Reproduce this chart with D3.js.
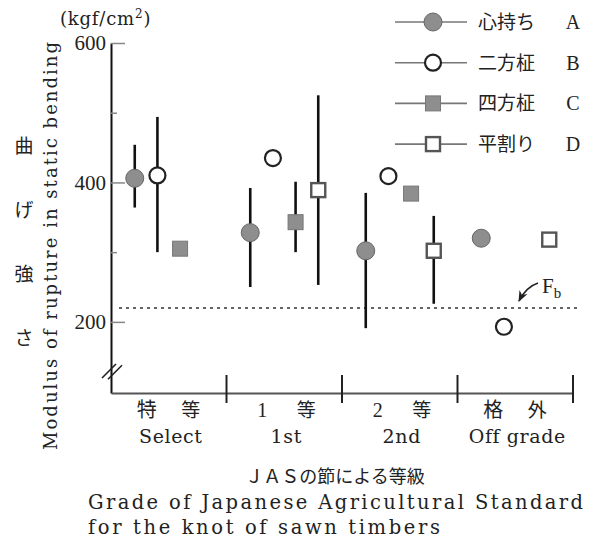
<!DOCTYPE html>
<html>
<head>
<meta charset="utf-8">
<script src="https://cdn.jsdelivr.net/npm/d3@7"></script>
<style>
  body { margin: 0; background: #fff; }
  text { fill: #222; }
</style>
</head>
<body>
<script>
const W = 594, H = 545;

// grades on the x axis
const grades = ['Select', '1st', '2nd', 'Off grade'];
const gradesJpL = ['特', '1', '2', '格'];
const gradesJpR = ['等', '等', '等', '外'];

// series
const seriesKeys = ['A', 'B', 'C', 'D'];
const seriesJp = ['心持ち', '二方柾', '四方柾', '平割り'];

// mean and range (kgf/cm2), null = not present
const meanA = [406, 328, 302, 320];
const lowA  = [364, 250, 191, null];
const highA = [454, 392, 385, null];

const meanB = [410, 435, 409, 193];
const lowB  = [300, null, null, null];
const highB = [494, null, null, null];

const meanC = [305, 343, 384, null];
const lowC  = [null, 300, null, null];
const highC = [null, 401, null, null];

const meanD = [null, 389, 302, 318];
const lowD  = [null, 253, 226, null];
const highD = [null, 525, 352, null];

const fb = 220;
const yTicks = [200, 300, 400, 500, 600];
const yLabels = [200, 400, 600];
const yTitleJp = ['曲', 'げ', '強', 'さ'];

const series = [
  {key: 'A', mean: meanA, low: lowA, high: highA},
  {key: 'B', mean: meanB, low: lowB, high: highB},
  {key: 'C', mean: meanC, low: lowC, high: highC},
  {key: 'D', mean: meanD, low: lowD, high: highD}
];

const points = [];
series.forEach(s => {
  grades.forEach((g, i) => {
    if (s.mean[i] != null) points.push({key: s.key, grade: g, v: s.mean[i], lo: s.low[i], hi: s.high[i]});
  });
});

const SERIF = '"DejaVu Serif", serif';
const NUM = '"Liberation Serif", serif';
const JP = '"Noto Sans CJK JP", sans-serif';

const svg = d3.select('body').append('svg')
  .attr('width', W).attr('height', H)
  .style('font-family', SERIF);

const x = d3.scaleBand().domain(grades).range([111, 573]);
const xs = d3.scalePoint().domain(seriesKeys).range([-34, 34]);
const y = d3.scaleLinear().domain([98, 600]).range([393, 43]);

const GRAY = '#8e8e8e';

// y axis
const yAxis = svg.append('g')
  .attr('transform', 'translate(111,0)')
  .call(d3.axisLeft(y).tickValues(yTicks).tickSize(-7).tickSizeOuter(0).tickPadding(5)
    .tickFormat(d => yLabels.includes(d) ? d : ''));
yAxis.select('.domain').attr('stroke', '#111').attr('stroke-width', 2);
yAxis.selectAll('.tick line').attr('stroke', '#888').attr('stroke-width', 1.5)
  .attr('x2', d => yLabels.includes(d) ? 14 : 6);
yAxis.selectAll('.tick text').attr('font-family', NUM)
  .attr('font-size', 21).attr('fill', '#222');

// axis break
[0, 6].forEach(o => {
  svg.append('line')
    .attr('x1', 102 + o).attr('y1', 378 + o * 0.2)
    .attr('x2', 116 + o).attr('y2', 364 + o * 0.2)
    .attr('stroke', '#222').attr('stroke-width', 1.6);
});

// x axis
const xAxis = svg.append('g')
  .attr('transform', 'translate(0,393)')
  .call(d3.axisBottom(x).tickValues([]).tickSizeOuter(0));
xAxis.select('.domain').attr('stroke', '#555').attr('stroke-width', 1.8);

svg.append('g').selectAll('line')
  .data(grades)
  .join('line')
  .attr('x1', d => x(d) + x.bandwidth()).attr('x2', d => x(d) + x.bandwidth())
  .attr('y1', 375).attr('y2', 403)
  .attr('stroke', '#222').attr('stroke-width', 2);

// category labels
const cat = svg.append('g').selectAll('g').data(grades).join('g')
  .attr('transform', d => `translate(${x(d) + x.bandwidth() / 2},0)`);
cat.append('text').attr('x', -22).attr('y', 417).attr('text-anchor', 'middle')
  .style('font-family', (d, i) => i === 0 || i === 3 ? JP : NUM).attr('font-size', 20)
  .text((d, i) => gradesJpL[i]);
cat.append('text').attr('x', 22).attr('y', 417).attr('text-anchor', 'middle')
  .style('font-family', JP).attr('font-size', 19)
  .text((d, i) => gradesJpR[i]);
cat.append('text').attr('x', 2).attr('y', 443).attr('text-anchor', 'middle')
  .attr('font-size', 19).attr('letter-spacing', 0.6)
  .text(d => d);

// Fb line
svg.append('line')
  .attr('x1', 119).attr('x2', 578)
  .attr('y1', y(fb)).attr('y2', y(fb))
  .attr('stroke', '#333').attr('stroke-width', 1.5)
  .attr('stroke-dasharray', '3,4');

svg.append('defs').append('marker')
  .attr('id', 'arr').attr('viewBox', '0 0 10 10')
  .attr('refX', 9).attr('refY', 5)
  .attr('markerWidth', 7).attr('markerHeight', 7)
  .attr('orient', 'auto')
  .append('path').attr('d', 'M0,1 L10,5 L0,9 L3,5 Z').attr('fill', '#222');

svg.append('path')
  .attr('d', 'M538,283 Q526,287 519,301')
  .attr('fill', 'none').attr('stroke', '#222').attr('stroke-width', 1.6)
  .attr('marker-end', 'url(#arr)');

const fbText = svg.append('text').attr('x', 542).attr('y', 293).attr('font-size', 21).attr('font-family', NUM);
fbText.append('tspan').text('F');
fbText.append('tspan').attr('font-size', 15).attr('dy', 5).text('b');

// error bars
svg.append('g').selectAll('line')
  .data(points.filter(p => p.lo != null))
  .join('line')
  .attr('x1', p => x(p.grade) + x.bandwidth() / 2 + xs(p.key))
  .attr('x2', p => x(p.grade) + x.bandwidth() / 2 + xs(p.key))
  .attr('y1', p => y(p.hi)).attr('y2', p => y(p.lo))
  .attr('stroke', '#111').attr('stroke-width', 2.6);

function drawMarker(g, key) {
  if (key === 'A') {
    g.append('circle').attr('r', 9).attr('fill', GRAY).attr('stroke', '#666').attr('stroke-width', 1);
  } else if (key === 'B') {
    g.append('circle').attr('r', 8).attr('fill', '#fff').attr('stroke', '#222').attr('stroke-width', 2.2);
  } else if (key === 'C') {
    g.append('rect').attr('x', -7.5).attr('y', -7.5).attr('width', 15).attr('height', 15)
      .attr('fill', GRAY).attr('stroke', '#777').attr('stroke-width', 1);
  } else {
    g.append('rect').attr('x', -7).attr('y', -7).attr('width', 14).attr('height', 14)
      .attr('fill', '#fff').attr('stroke', '#555').attr('stroke-width', 2.4);
  }
}

// markers
svg.append('g').selectAll('g')
  .data(points)
  .join('g')
  .attr('transform', p => `translate(${x(p.grade) + x.bandwidth() / 2 + xs(p.key)},${y(p.v)})`)
  .each(function(p) { drawMarker(d3.select(this), p.key); });

// legend
const legend = svg.append('g').selectAll('g')
  .data(seriesKeys)
  .join('g')
  .attr('transform', (d, i) => `translate(433,${22 + i * 40.7})`);
legend.append('line').attr('x1', -38).attr('x2', 34)
  .attr('stroke', '#777').attr('stroke-width', 1.6);
legend.each(function(d) { drawMarker(d3.select(this), d); });
legend.append('text').attr('x', 45).attr('dy', '0.36em')
  .style('font-family', JP).attr('font-size', 19)
  .text((d, i) => seriesJp[i]);
legend.append('text').attr('x', 140).attr('dy', '0.35em').attr('text-anchor', 'middle')
  .attr('font-size', 20).attr('font-family', NUM)
  .text(d => d);

// unit
svg.append('text').attr('x', 60).attr('y', 25).attr('font-size', 18).attr('letter-spacing', 0.8)
  .html('(kgf/cm<tspan font-size="12" dy="-7">2</tspan><tspan dy="7">)</tspan>');

// y titles
svg.append('text')
  .attr('transform', 'translate(57,246) rotate(-90)')
  .attr('text-anchor', 'middle')
  .attr('font-size', 18)
  .attr('textLength', 408).attr('lengthAdjust', 'spacing')
  .text('Modulus of rupture in static bending');

svg.append('g').selectAll('text')
  .data(yTitleJp)
  .join('text')
  .attr('x', 24).attr('y', (d, i) => 146 + i * 64)
  .attr('dy', '0.36em').attr('text-anchor', 'middle')
  .style('font-family', JP).attr('font-size', 19)
  .text(d => d);

// x titles
svg.append('text').attr('x', 335).attr('y', 483).attr('text-anchor', 'middle')
  .style('font-family', JP).attr('font-size', 18)
  .text('ＪＡＳの節による等級');
svg.append('text').attr('x', 88).attr('y', 509).attr('font-size', 19.5)
  .attr('textLength', 495).attr('lengthAdjust', 'spacing')
  .text('Grade of Japanese Agricultural Standard');
svg.append('text').attr('x', 88).attr('y', 534).attr('font-size', 19.5)
  .attr('textLength', 352).attr('lengthAdjust', 'spacing')
  .text('for the knot of sawn timbers');
</script>
</body>
</html>
